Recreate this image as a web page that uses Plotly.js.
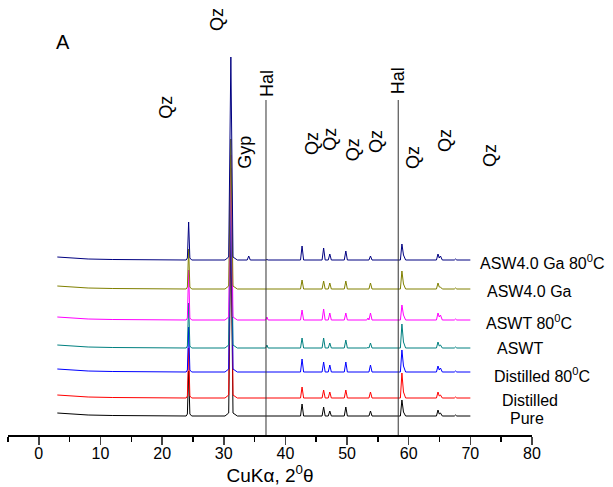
<!DOCTYPE html>
<html>
<head>
<meta charset="utf-8">
<script src="https://cdn.plot.ly/plotly-3.0.1.min.js"></script>
<style>html,body{margin:0;padding:0;background:#fff}#chart{width:613px;height:487px}</style>
</head>
<body>
<div id="chart"></div>
<script>
// 2-theta sample points (degrees)
const twoTheta = [3,5,8,12,16,20, 23.9,24.1,24.3,24.5,24.8, 30.2,30.8,31.15,31.5,32.2, 33.8,34.05,34.3, 36.8,37.0,37.2, 42.45,42.7,42.95, 45.95,46.2,46.45, 46.95,47.2,47.45, 49.55,49.8,50.05, 53.2,53.4,53.55,53.8,54.05, 58.65,58.9,59.15,59.5, 64.5,64.75,64.95,65.15,65.45, 67.4,67.6,67.8, 70];

const seriesNames = ['Pure', 'Distilled', 'Distilled 80<sup>0</sup>C', 'ASWT', 'ASWT 80<sup>0</sup>C', 'ASW4.0 Ga', 'ASW4.0 Ga 80<sup>0</sup>C'];
// vertical stacking offsets (a.u.)
const offsets = [19, 37, 63, 87, 115, 146, 175];

// intensity above each pattern's baseline (a.u.)
const pure        = [3,2,1,0.5,0.3,0.2, 0,2,45,2,0, 0,3,190,3,0, 0,0.5,0, 0,0.5,0, 0,12,0, 0,9,0, 0,5,0, 0,9,0, 0,0.5,0,5,0, 0,16,4,0, 0,6,2,3,0, 0,1,0, 0];
const distilled   = [3,2,1,0.5,0.3,0.2, 0,2,50,2,0, 0,3,230,3,0, 0,0.5,0, 0,0.5,0, 0,11,0, 0,8,0, 0,6,0, 0,8,0, 0,0.5,0,6,0, 0,25,6,0, 0,6,2,3,0, 0,1,0, 0];
const distilled80 = [3,2,1,0.5,0.3,0.2, 0,2,45,2,0, 0,3,195,3,0, 0,0.5,0, 0,0.5,0, 0,13,0, 0,10,0, 0,7,0, 0,10,0, 0,0.5,0,7,0, 0,22,6,0, 0,6,2,4,0, 0,1,0, 0];
const aswt        = [3,2,1,0.5,0.3,0.2, 0,2,45,2,0, 0,3,180,3,0, 0,0.5,0, 0,3,0, 0,10,0, 0,10,0, 0,5,0, 0,8,0, 0,0.5,0,5,0, 0,24,6,0, 0,6,2,3,0, 0,1,0, 0];
const aswt80      = [3,2,1,0.5,0.3,0.2, 0,2,50,2,0, 0,3,165,3,0, 0,0.5,0, 0,3,0, 0,10,0, 0,11,0, 0,7,0, 0,7,0, 0,2,0,7,0, 0,15,5,0, 0,7,3,5,0, 0,1,0, 0];
const asw40ga     = [3,2,1,0.5,0.3,0.2, 0,2,40,2,0, 0,3,150,3,0, 0,0.5,0, 0,0.5,0, 0,9,0, 0,8,0, 0,6,0, 0,8,0, 0,0.5,0,6,0, 0,18,5,0, 0,6,2,2,0, 0,1,0, 0];
const asw40ga80   = [3,2,1,0.5,0.3,0.2, 0,2,38,2,0, 0,3,203,3,0, 0,4,0, 0,0.5,0, 0,14,0, 0,12,0, 0,6,0, 0,9,0, 0,0.5,0,4,0, 0,16,5,0, 0,6,2,4,0, 0,1,0, 0];
const intensities = [pure, distilled, distilled80, aswt, aswt80, asw40ga, asw40ga80];

// halite reference lines (2-theta)
const halLines = [36.85, 58.3];
// phase labels
const phaseLabels = ['Qz','Qz','Gyp','Hal','Qz','Qz','Qz','Qz','Hal','Qz','Qz','Qz'];
const tickVals = [0,10,20,30,40,50,60,70,80];

const colors = ['#000000','#ff0000','#0000ff','#008080','#ff00ff','#808000','#000080'];
const FONT = 'Arial, "Liberation Sans", sans-serif';

const traces = intensities.map((arr, i) => ({
  type: 'scatter', mode: 'lines',
  x: twoTheta,
  y: arr.map(v => v + offsets[i]),
  line: {color: colors[i], width: 1},
  hoverinfo: 'skip', showlegend: false
}));

// label placement (x in 2-theta, y in plot units)
const labelPos = [[20.6,328],[28.9,416],[33.4,283],[37.0,352],[44.3,292],[47.2,296],[51.0,285],[54.7,293],[58.3,354],[60.7,277],[65.9,294],[73.2,279]];
const annotations = phaseLabels.map((t, i) => ({
  x: labelPos[i][0], y: labelPos[i][1], xref: 'x', yref: 'y',
  text: t, showarrow: false, textangle: -90,
  font: {family: FONT, size: 18, color: '#000'}
}));

const nameXY = [[0.954,0.039],[0.939,0.080],[0.924,0.138],[0.929,0.198],[0.908,0.260],[0.910,0.329],[0.897,0.398]];
seriesNames.forEach((n, i) => {
  annotations.push({x: nameXY[i][0], y: nameXY[i][1], xref: 'paper', yref: 'paper',
    xanchor: 'left', yanchor: 'middle', text: n, showarrow: false,
    font: {family: FONT, size: 16, color: '#000'}});
});
annotations.push({x: 0.088, y: 0.933, xref: 'paper', yref: 'paper', text: 'A', showarrow: false,
  font: {family: FONT, size: 20, color: '#000'}});

const shapes = halLines.map(h => ({type: 'line', xref: 'x', yref: 'y', x0: h, x1: h, y0: 0, y1: 335,
  line: {color: '#333333', width: 1}}));

const layout = {
  width: 613, height: 487,
  margin: {l: 8, r: 81, t: 0, b: 52},
  paper_bgcolor: '#fff', plot_bgcolor: '#fff',
  showlegend: false,
  xaxis: {
    range: [-5, 80], tickvals: tickVals, ticks: 'outside', ticklen: 8, tickwidth: 1.5,
    ticklabelstandoff: -5,
    showline: true, linewidth: 2, linecolor: '#000', showgrid: false, zeroline: false,
    minor: {dtick: 5, tick0: 0, ticks: 'outside', ticklen: 5, tickwidth: 1.5, tickcolor: '#000', showgrid: false},
    tickfont: {family: FONT, size: 16, color: '#000'},
    title: {text: 'CuKα, 2<sup>0</sup>θ', font: {family: FONT, size: 19, color: '#000'}, standoff: 2}
  },
  yaxis: {range: [0, 435], visible: false, showgrid: false, zeroline: false},
  annotations: annotations,
  shapes: shapes
};

Plotly.newPlot('chart', traces, layout, {displayModeBar: false, staticPlot: true});
</script>
</body>
</html>
